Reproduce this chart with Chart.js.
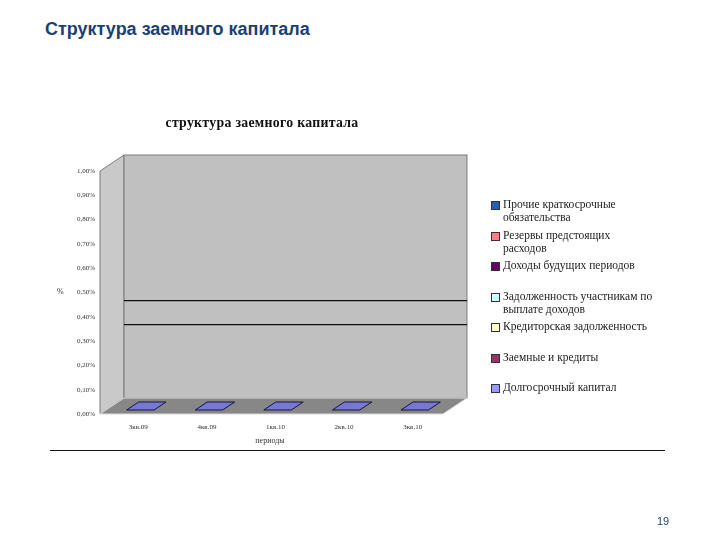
<!DOCTYPE html>
<html lang="ru">
<head>
<meta charset="utf-8">
<title>Структура заемного капитала</title>
<script src="https://cdn.jsdelivr.net/npm/chart.js@4.4.1/dist/chart.umd.min.js"></script>
<style>
  html, body { margin: 0; padding: 0; background: #fff; }
  #page { position: relative; width: 720px; height: 540px; overflow: hidden; }
  #page-title {
    position: absolute; left: 45px; top: 19px;
    font: bold 18px 'Liberation Sans', Arial, sans-serif; color: #1b3f73;
  }
  #chart-title {
    position: absolute; left: 152px; top: 115px; width: 220px; text-align: center;
    font: bold 13.8px 'Liberation Serif', 'Times New Roman', serif; color: #111;
    letter-spacing: 0.3px;
  }
  #y-title, #x-title {
    position: absolute; font: 8px 'Liberation Serif', serif; color: #333;
  }
  #y-title { left: 57px; top: 287px; }
  #x-title { left: 240px; top: 436px; width: 60px; text-align: center; }
  #rule { position: absolute; left: 50px; top: 450px; width: 615px; height: 0; border-top: 1.5px solid #111; }
  #page-num {
    position: absolute; left: 657px; top: 515px;
    font: 11px 'Liberation Sans', Arial, sans-serif; color: #1b3f73;
  }
  #cv { position: absolute; left: 0; top: 0; }
  #legend {
    position: absolute; left: 490px; top: 198px; width: 165px;
    font: 11.5px 'Liberation Serif', 'Times New Roman', serif; color: #222;
  }
  .lg-item { position: relative; height: 30.5px; padding-left: 13px; line-height: 13px; }
  .lg-box {
    position: absolute; left: 1px; top: 3px; width: 7px; height: 7px;
    border: 1px solid #333;
  }
</style>
</head>
<body>
<div id="page">
  <div id="page-title">Структура заемного капитала</div>
  <canvas id="cv" width="720" height="540"></canvas>
  <div id="chart-title">структура заемного капитала</div>
  <div id="y-title">%</div>
  <div id="x-title">периоды</div>
  <div id="legend"></div>
  <div id="rule"></div>
  <div id="page-num">19</div>
</div>
<script>
// ── Data (series in Excel plotting order, bottom of stack first) ──
const periods = ['3кв.09', '4кв.09', '1кв.10', '2кв.10', '3кв.10'];

const seriesNames = [
  'Долгосрочный капитал',
  'Заемные и кредиты',
  'Кредиторская задолженность',
  'Задолженность участникам по выплате доходов',
  'Доходы будущих периодов',
  'Резервы предстоящих расходов',
  'Прочие краткосрочные обязательства',
];

// values, % of total (only the first series has numbers, all zero)
const longTermCapital   = [0, 0, 0, 0, 0];
const loansAndCredits   = [null, null, null, null, null];
const accountsPayable   = [null, null, null, null, null];
const dueToParticipants = [null, null, null, null, null];
const deferredIncome    = [null, null, null, null, null];
const reserves          = [null, null, null, null, null];
const otherShortTerm    = [null, null, null, null, null];

const yTickLabels = ['0,00%', '0,10%', '0,20%', '0,30%', '0,40%', '0,50%',
                     '0,60%', '0,70%', '0,80%', '0,90%', '1,00%'];
const yMax = 1;
const yStep = 0.1;
// the only gridlines visible on the back wall
const drawnGridValues = [0.3, 0.4];

// Excel 2003 default series palette
const seriesColors = ['#9999ff', '#993366', '#ffffcc', '#ccffff', '#660066', '#ff8080', '#1f62b0'];

// ── 3D look ───────────────────────────────────────────────
const DEPTH_X = -24;
const DEPTH_Y = 16;

const walls3d = {
  id: 'walls3d',
  beforeDraw(chart) {
    const { ctx, chartArea: a } = chart;
    ctx.save();
    ctx.lineWidth = 1;
    ctx.strokeStyle = '#7a7a7a';
    // side wall
    ctx.fillStyle = '#c9c9c9';
    ctx.beginPath();
    ctx.moveTo(a.left, a.top);
    ctx.lineTo(a.left + DEPTH_X, a.top + DEPTH_Y);
    ctx.lineTo(a.left + DEPTH_X, a.bottom + DEPTH_Y);
    ctx.lineTo(a.left, a.bottom);
    ctx.closePath();
    ctx.fill();
    ctx.stroke();
    // back wall
    ctx.fillStyle = '#c0c0c0';
    ctx.fillRect(a.left, a.top, a.right - a.left, a.bottom - a.top);
    ctx.strokeRect(a.left, a.top, a.right - a.left, a.bottom - a.top);
    // floor
    ctx.fillStyle = '#878787';
    ctx.beginPath();
    ctx.moveTo(a.left, a.bottom);
    ctx.lineTo(a.right, a.bottom);
    ctx.lineTo(a.right + DEPTH_X, a.bottom + DEPTH_Y);
    ctx.lineTo(a.left + DEPTH_X, a.bottom + DEPTH_Y);
    ctx.closePath();
    ctx.fill();
    ctx.strokeStyle = '#dcdcdc';
    ctx.stroke();
    ctx.restore();
  },
  afterDatasetsDraw(chart) {
    const { ctx } = chart;
    ctx.save();
    chart.data.datasets.forEach((ds, i) => {
      const meta = chart.getDatasetMeta(i);
      meta.data.forEach((el, j) => {
        if (ds.data[j] == null) return;
        const half = el.width / 2;
        const p = (d, side) => [el.x + side * half + DEPTH_X * d, el.y + DEPTH_Y * d];
        const pts = [p(0.25, -1), p(0.25, 1), p(0.75, 1), p(0.75, -1)];
        ctx.beginPath();
        pts.forEach(([x, y], k) => (k ? ctx.lineTo(x, y) : ctx.moveTo(x, y)));
        ctx.closePath();
        ctx.fillStyle = ds.backgroundColor;
        ctx.fill();
        ctx.fillStyle = 'rgba(20,20,90,0.25)';
        ctx.fill();
        ctx.strokeStyle = '#15153a';
        ctx.lineWidth = 1;
        ctx.stroke();
      });
    });
    ctx.restore();
  },
};

// ── Chart ─────────────────────────────────────────────────
const seriesValues = [longTermCapital, loansAndCredits, accountsPayable, dueToParticipants,
                      deferredIncome, reserves, otherShortTerm];

const chart = new Chart(document.getElementById('cv'), {
  type: 'bar',
  data: {
    labels: periods,
    datasets: seriesNames.map((name, i) => ({
      label: name,
      data: seriesValues[i],
      backgroundColor: seriesColors[i],
      borderWidth: 0,
      barPercentage: 0.4,
      categoryPercentage: 1,
    })),
  },
  options: {
    responsive: false,
    animation: false,
    layout: { autoPadding: false, padding: { left: 24, top: 155, right: 253, bottom: 102 } },
    plugins: { legend: { display: false }, tooltip: { enabled: false } },
    scales: {
      x: {
        stacked: true,
        grid: { display: false, drawTicks: false },
        border: { display: false },
        afterFit: s => { s.height = 40; },
        ticks: {
          color: '#333', padding: 25, labelOffset: -20, maxRotation: 0,
          font: { family: "'Liberation Serif', serif", size: 7 },
        },
      },
      y: {
        stacked: true,
        min: 0,
        max: yMax,
        afterFit: s => { s.width = 100; },
        border: { display: false },
        grid: {
          drawTicks: false,
          lineWidth: 1.3,
          color: c => (c.tick && drawnGridValues.some(v => Math.abs(v - c.tick.value) < 1e-6))
            ? '#111' : 'rgba(0,0,0,0)',
        },
        ticks: {
          stepSize: yStep,
          padding: 29,
          labelOffset: DEPTH_Y,
          color: '#333',
          font: { family: "'Liberation Serif', serif", size: 7 },
          callback: (v, idx) => yTickLabels[idx],
        },
      },
    },
  },
  plugins: [walls3d],
});

// ── Legend (Excel lists the stack top-down) ───────────────
const legend = document.getElementById('legend');
chart.data.datasets.slice().reverse().forEach(ds => {
  const item = document.createElement('div');
  item.className = 'lg-item';
  const box = document.createElement('span');
  box.className = 'lg-box';
  box.style.background = ds.backgroundColor;
  item.appendChild(box);
  item.appendChild(document.createTextNode(ds.label));
  legend.appendChild(item);
});
</script>
</body>
</html>
